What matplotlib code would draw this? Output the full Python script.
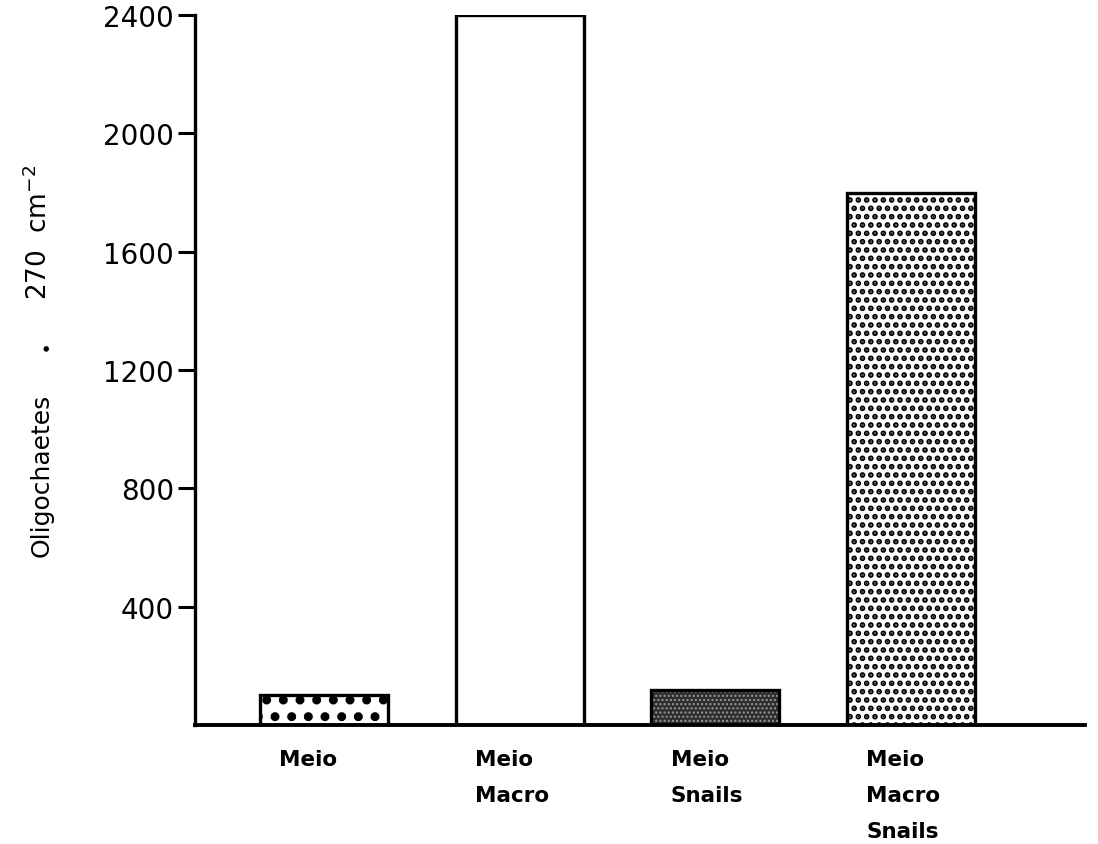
import numpy as np
import matplotlib.pyplot as plt

groups = ["Meio", "Meio\nMacro", "Meio\nSnails", "Meio\nMacro\nSnails"]
counts = [100, 2400, 120, 1800]
yticks = [400, 800, 1200, 1600, 2000, 2400]


def main():
	fig = plt.figure(figsize=(10.98, 8.45), dpi=100)
	ax = fig.add_axes([0.1776, 0.1408, 0.8104, 0.8402])
	x = np.arange(len(counts))
	w = 0.655

	# fill of each treatment
	b1 = ax.bar(x[0], counts[0], w, color="white", edgecolor="black", hatch=".", linewidth=0)
	ax.bar(x[1], counts[1], w, color="white", linewidth=0)
	ax.bar(x[2], counts[2], w, color="#2e2e2e", linewidth=0)
	ax.bar(x[2], counts[2], w, color="none", edgecolor="#9a9a9a", hatch="....", linewidth=0)
	b4 = ax.bar(x[3], counts[3], w, color="white", edgecolor="black", hatch="..", linewidth=0)
	for p in b1:
		p.set_hatch_linewidth(4.0)
	for p in b4:
		p.set_hatch_linewidth(2.8)
	# outlines
	ax.bar(x, counts, w, color="none", edgecolor="black", linewidth=2.4)

	ax.set_xlim(-0.659, 3.889)
	ax.set_ylim(0, 2400)
	ax.spines["top"].set_visible(False)
	ax.spines["right"].set_visible(False)
	ax.spines["left"].set_linewidth(2.4)
	ax.spines["bottom"].set_linewidth(2.8)

	ax.set_yticks(yticks)
	ax.set_yticklabels([str(v) for v in yticks], fontsize=20)
	ax.tick_params(axis="y", direction="out", length=12, width=2.2, pad=3)
	ax.set_xticks([])

	for xi, g in zip(x, groups):
		ax.text(xi - w / 2 + 0.1, -80, g, ha="left", va="top", fontsize=15.5,
			fontweight="bold", linespacing=2.0)

	# y label in three pieces, reading bottom to top
	fig.text(0.038, 0.341, "Oligochaetes", rotation=90, ha="center", va="bottom", fontsize=18)
	fig.text(0.041, 0.586, "$\\bullet$", rotation=90, ha="center", va="center", fontsize=14)
	fig.text(0.035, 0.645, "270  cm$^{-2}$", rotation=90, ha="center", va="bottom", fontsize=19)

	plt.savefig("out.png", dpi=100)
	plt.close(fig)


if __name__ == "__main__":
	main()
